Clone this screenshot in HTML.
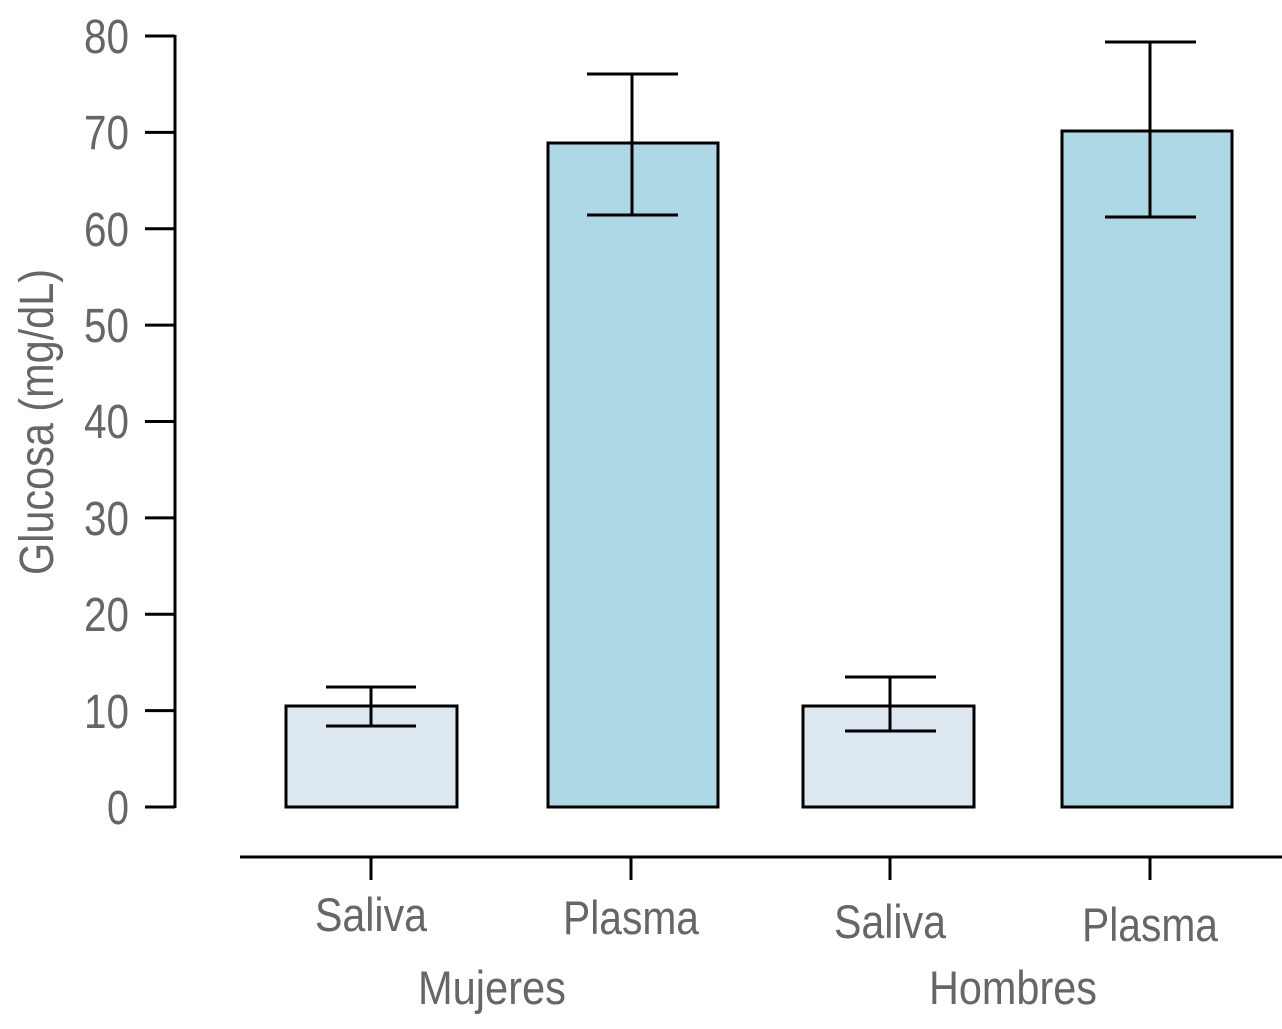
<!DOCTYPE html>
<html><head><style>html,body{margin:0;padding:0;background:#fff;}</style></head>
<body>
<svg width="1282" height="1024" viewBox="0 0 1282 1024" xmlns="http://www.w3.org/2000/svg" font-family="Liberation Sans, sans-serif" fill="#666">
<g stroke="#000" stroke-width="3" fill="none">
<line x1="175" y1="35" x2="175" y2="808"/>
<line x1="145" y1="36" x2="175" y2="36"/>
<line x1="145" y1="132.4" x2="175" y2="132.4"/>
<line x1="145" y1="228.8" x2="175" y2="228.8"/>
<line x1="145" y1="325.1" x2="175" y2="325.1"/>
<line x1="145" y1="421.5" x2="175" y2="421.5"/>
<line x1="145" y1="517.9" x2="175" y2="517.9"/>
<line x1="145" y1="614.3" x2="175" y2="614.3"/>
<line x1="145" y1="710.6" x2="175" y2="710.6"/>
<line x1="145" y1="807" x2="175" y2="807"/>
<line x1="240" y1="857" x2="1282" y2="857"/>
<line x1="371" y1="857" x2="371" y2="880"/>
<line x1="631" y1="857" x2="631" y2="880"/>
<line x1="890" y1="857" x2="890" y2="880"/>
<line x1="1150" y1="857" x2="1150" y2="880"/>
</g>
<g stroke="#000" stroke-width="3">
<rect x="286" y="706" width="171" height="101" fill="#dce7ef"/>
<rect x="548" y="143" width="170" height="664" fill="#add8e5"/>
<rect x="803" y="706" width="171" height="101" fill="#dce7ef"/>
<rect x="1062" y="131" width="170" height="676" fill="#add8e5"/>
<g fill="none">
<path d="M371 687V726M326 687H416M326 726H416"/>
<path d="M632 74V215M587 74H678M587 215H678"/>
<path d="M890 677V731M845 677H936M845 731H936"/>
<path d="M1150 42V217M1105 42H1196M1105 217H1196"/>
</g>
</g>
<g font-size="48" text-anchor="end">
<text x="129" y="53" textLength="45" lengthAdjust="spacingAndGlyphs">80</text>
<text x="129" y="149" textLength="45" lengthAdjust="spacingAndGlyphs">70</text>
<text x="129" y="246" textLength="45" lengthAdjust="spacingAndGlyphs">60</text>
<text x="129" y="342" textLength="45" lengthAdjust="spacingAndGlyphs">50</text>
<text x="129" y="438" textLength="45" lengthAdjust="spacingAndGlyphs">40</text>
<text x="129" y="535" textLength="45" lengthAdjust="spacingAndGlyphs">30</text>
<text x="129" y="631" textLength="45" lengthAdjust="spacingAndGlyphs">20</text>
<text x="129" y="728" textLength="45" lengthAdjust="spacingAndGlyphs">10</text>
<text x="129" y="824" textLength="22" lengthAdjust="spacingAndGlyphs">0</text>
</g>
<text transform="translate(53,422) rotate(-90)" font-size="48" text-anchor="middle" textLength="306" lengthAdjust="spacingAndGlyphs">Glucosa (mg/dL)</text>
<g font-size="47" text-anchor="middle">
<text x="371" y="931" textLength="112" lengthAdjust="spacingAndGlyphs">Saliva</text>
<text x="631" y="934" textLength="136" lengthAdjust="spacingAndGlyphs">Plasma</text>
<text x="890" y="938" textLength="112" lengthAdjust="spacingAndGlyphs">Saliva</text>
<text x="1150" y="941" textLength="136" lengthAdjust="spacingAndGlyphs">Plasma</text>
<text x="492" y="1004" textLength="148" lengthAdjust="spacingAndGlyphs">Mujeres</text>
<text x="1013" y="1004" textLength="168" lengthAdjust="spacingAndGlyphs">Hombres</text>
</g>
</svg>
</body></html>
